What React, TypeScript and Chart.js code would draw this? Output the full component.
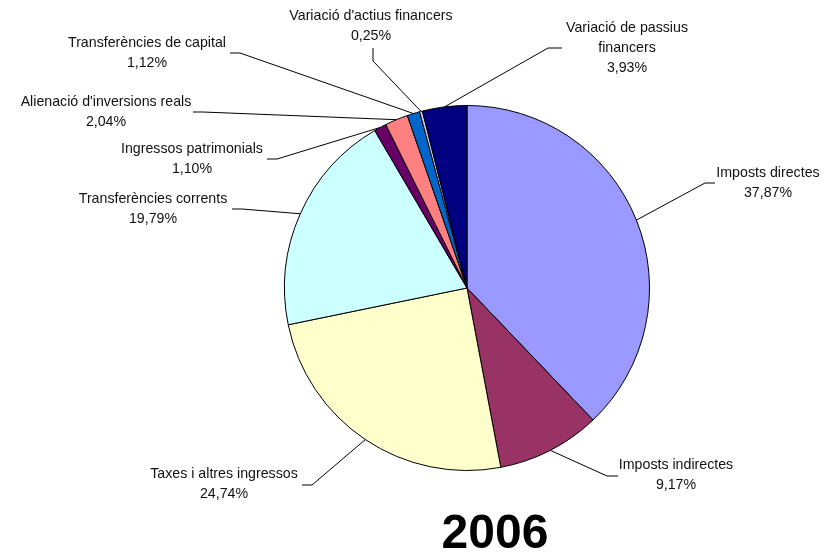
import React, { useEffect, useRef } from "react";
import { Chart, registerables } from "chart.js";

Chart.register(...registerables);

const categories = [
  "Imposts directes",
  "Imposts indirectes",
  "Taxes i altres ingressos",
  "Transferències corrents",
  "Ingressos patrimonials",
  "Alienació d'inversions reals",
  "Transferències de capital",
  "Variació d'actius financers",
  "Variació de passius financers",
];

const values = [37.87, 9.17, 24.74, 19.79, 1.1, 2.04, 1.12, 0.25, 3.93];

const colors = [
  "#9999FF",
  "#993366",
  "#FFFFCC",
  "#CCFFFF",
  "#660066",
  "#FF8080",
  "#0066CC",
  "#CCCCFF",
  "#000080",
];

const titleText = "2006";

// label layout: text centre x, first line y, leader points (label end, elbow)
const labelLayout = [
  { cx: 768, cy: 173, maxW: 220, pts: [[715, 183], [705, 183]] },
  { cx: 676, cy: 465, maxW: 220, pts: [[618, 476], [607, 476]] },
  { cx: 224, cy: 474, maxW: 220, pts: [[302, 485], [312, 485]] },
  { cx: 153, cy: 199, maxW: 220, pts: [[232, 209], [242, 209]] },
  { cx: 192, cy: 149, maxW: 220, pts: [[267, 159], [277, 159]] },
  { cx: 106, cy: 102, maxW: 220, pts: [[193, 112], [203, 112]] },
  { cx: 147, cy: 43, maxW: 220, pts: [[230, 53], [240, 53]] },
  { cx: 371, cy: 16, maxW: 220, pts: [[373, 48], [373, 61]] },
  { cx: 627, cy: 28, maxW: 140, pts: [[562, 48], [548, 48]] },
];

const FONT = '14.2px "Liberation Sans", Arial, sans-serif';

function wrap(ctx: CanvasRenderingContext2D, text: string, maxW: number): string[] {
  const words = text.split(" ");
  const lines: string[] = [];
  let cur = "";
  for (const w of words) {
    const t = cur ? cur + " " + w : w;
    if (ctx.measureText(t).width > maxW && cur) {
      lines.push(cur);
      cur = w;
    } else cur = t;
  }
  if (cur) lines.push(cur);
  return lines;
}

const labelPlugin = {
  id: "outerLabels",
  afterDraw(chart: any) {
    const ctx = chart.ctx as CanvasRenderingContext2D;
    const meta = chart.getDatasetMeta(0);
    ctx.save();
    ctx.font = FONT;
    ctx.textAlign = "center";
    ctx.textBaseline = "middle";
    meta.data.forEach((arc: any, i: number) => {
      const p = arc.getProps(["x", "y", "startAngle", "endAngle", "outerRadius"], true);
      const mid = (p.startAngle + p.endAngle) / 2;
      const ax = p.x + Math.cos(mid) * p.outerRadius;
      const ay = p.y + Math.sin(mid) * p.outerRadius;
      const L = labelLayout[i];
      ctx.strokeStyle = "#000";
      ctx.lineWidth = 1;
      ctx.beginPath();
      ctx.moveTo(L.pts[0][0], L.pts[0][1]);
      ctx.lineTo(L.pts[1][0], L.pts[1][1]);
      ctx.lineTo(ax, ay);
      ctx.stroke();
      const lines = wrap(ctx, categories[i], L.maxW);
      lines.push(values[i].toFixed(2).replace(".", ",") + "%");
      ctx.fillStyle = "#111";
      lines.forEach((ln, k) => {
        ctx.fillText(ln, L.cx, L.cy + k * 20);
      });
    });
    ctx.font = 'bold 48px "Liberation Sans", Arial, sans-serif';
    ctx.textBaseline = "alphabetic";
    ctx.fillStyle = "#000";
    ctx.fillText(titleText, 495, 548);
    ctx.restore();
  },
};

export default function App() {
  const ref = useRef<HTMLCanvasElement>(null);
  useEffect(() => {
    if (!ref.current) return;
    const chart = new Chart(ref.current, {
      type: "pie",
      data: {
        labels: categories,
        datasets: [
          {
            data: values,
            backgroundColor: colors,
            borderColor: "#000",
            borderWidth: 1,
          },
        ],
      },
      options: {
        responsive: false,
        animation: false,
        layout: { padding: { left: 284, right: 186, top: 105, bottom: 85 } },
        plugins: {
          legend: { display: false },
          tooltip: { enabled: false },
          title: { display: false },
        },
      },
      plugins: [labelPlugin],
    });
    return () => chart.destroy();
  }, []);
  return (
    <div style={{ position: "absolute", left: 0, top: 0, width: 836, height: 556, background: "#fff" }}>
      <canvas ref={ref} width={836} height={556} />
    </div>
  );
}
